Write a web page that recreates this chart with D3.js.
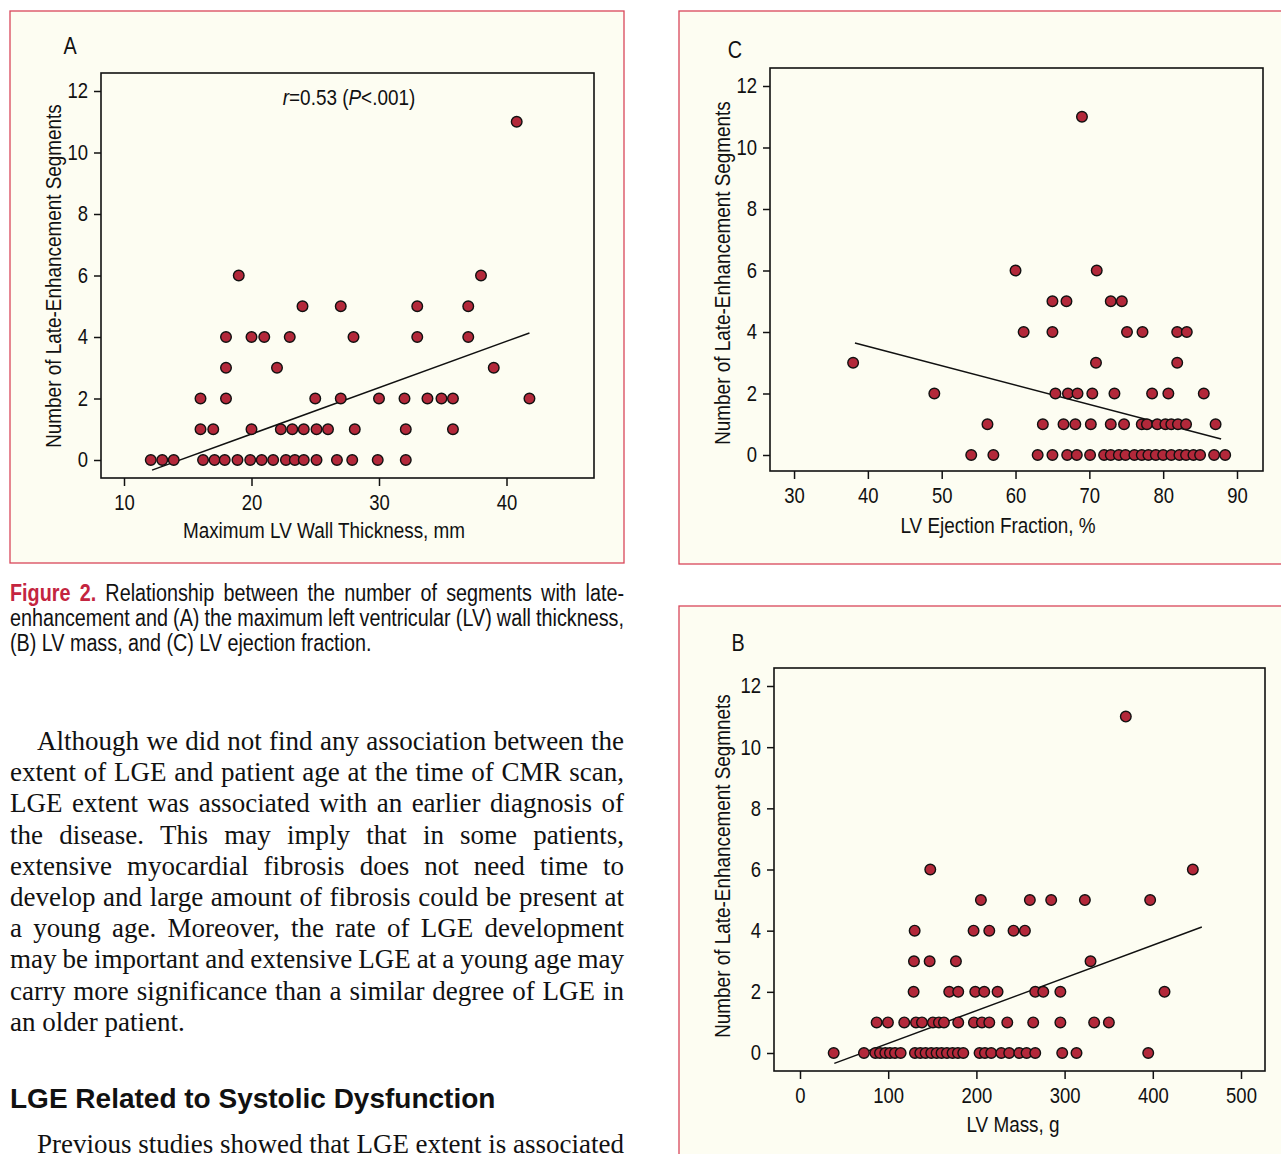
<!DOCTYPE html>
<html>
<head>
<meta charset="utf-8">
<style>
body { margin: 0; background: #fff; }
text { font-family: "Liberation Sans", Arial, sans-serif; fill: #111; }
.tick text { font-size: 21.5px; fill: #111; }
.tick line { stroke: #111; stroke-width: 1.5; }
.ttl { font-size: 22px; }
.letter { font-size: 23px; }
.cap { font-size: 23px; }
.fig { font-size: 23px; fill: #c4253f; font-weight: bold; }
.body { font-family: "Liberation Serif", "Times New Roman", serif; font-size: 27px; }
.head { font-family: "Liberation Sans", Arial, sans-serif; font-size: 28px; font-weight: bold; }
</style>
<script src="https://d3js.org/d3.v7.min.js"></script>
</head>
<body>
<svg width="1281" height="1154"></svg>
<script>
var yTicks = [0, 2, 4, 6, 8, 10, 12];
var thicknessTicks = [10, 20, 30, 40];
var ejectionTicks = [30, 40, 50, 60, 70, 80, 90];
var massTicks = [0, 100, 200, 300, 400, 500];

// [value, late-enhancement segments]
var thicknessPts = [
  [12.1,0],[13.0,0],[13.9,0],[16.2,0],[17.1,0],[17.9,0],[18.9,0],[19.9,0],[20.8,0],[21.7,0],
  [22.7,0],[23.4,0],[24.1,0],[25.1,0],[26.7,0],[27.9,0],[29.9,0],[32.1,0],
  [16.0,1],[17.0,1],[20.0,1],[22.3,1],[23.2,1],[24.1,1],[25.1,1],[26.0,1],[28.1,1],[32.1,1],[35.8,1],
  [16.0,2],[18.0,2],[25.0,2],[27.0,2],[30.0,2],[32.0,2],[33.8,2],[34.9,2],[35.8,2],[41.8,2],
  [18.0,3],[22.0,3],[39.0,3],
  [18.0,4],[20.0,4],[21.0,4],[23.0,4],[28.0,4],[33.0,4],[37.0,4],
  [24.0,5],[27.0,5],[33.0,5],[37.0,5],
  [19.0,6],[38.0,6],
  [40.8,11]
];
var ejectionPts = [
  [54.0,0],[57.0,0],[63.0,0],[65.0,0],[67.0,0],[68.3,0],[70.1,0],[72.0,0],[72.9,0],[74.0,0],[74.9,0],
  [76.1,0],[77.1,0],[78.0,0],[79.0,0],[80.0,0],[81.1,0],[82.2,0],[83.1,0],[84.1,0],[85.0,0],[86.9,0],[88.4,0],
  [56.2,1],[63.7,1],[66.5,1],[68.1,1],[70.2,1],[72.9,1],[74.7,1],[77.1,1],[77.8,1],[79.2,1],[80.3,1],
  [81.1,1],[82.0,1],[83.1,1],[87.1,1],
  [49.0,2],[65.4,2],[67.1,2],[68.4,2],[70.4,2],[73.4,2],[78.5,2],[80.7,2],[85.5,2],
  [38.0,3],[70.9,3],[81.9,3],
  [61.1,4],[65.0,4],[75.1,4],[77.2,4],[81.9,4],[83.2,4],
  [65.0,5],[66.9,5],[72.9,5],[74.4,5],
  [60.0,6],[71.0,6],
  [69.0,11]
];
var massPts = [
  [38.2,0],[72.5,0],[85.4,0],[90.7,0],[96.7,0],[102.0,0],[107.7,0],[114.1,0],[130.3,0],[136.4,0],
  [142.4,0],[148.8,0],[154.9,0],[160.5,0],[166.6,0],[173.0,0],[179.0,0],[185.1,0],[203.6,0],[209.7,0],
  [216.8,0],[228.2,0],[237.2,0],[248.6,0],[256.9,0],[266.7,0],[297.3,0],[313.5,0],[394.8,0],
  [86.9,1],[99.7,1],[118.2,1],[131.5,1],[138.3,1],[150.7,1],[157.5,1],[163.2,1],[179.4,1],[197.2,1],
  [206.3,1],[214.6,1],[235.0,1],[264.4,1],[295.2,1],[333.5,1],[350.2,1],
  [128.8,2],[169.2,2],[179.4,2],[198.7,2],[208.9,2],[224.0,2],[266.7,2],[275.8,2],[295.2,2],[413.3,2],
  [129.2,3],[147.0,3],[176.8,3],[329.4,3],
  [130.0,4],[196.8,4],[214.6,4],[242.1,4],[255.0,4],
  [205.1,5],[260.6,5],[284.8,5],[323.0,5],[397.0,5],
  [147.7,6],[445.4,6],
  [369.4,11]
];

// regression line end points
var thicknessFit = [[12.2, -0.33], [41.8, 4.13]];
var ejectionFit = [[38.25, 3.64], [87.85, 0.52]];
var massFit = [[38.9, -0.34], [455.6, 4.12]];

var captionLead = ["Figure", "2."];
var captionLines = [
  "Relationship between the number of segments with late-",
  "enhancement and (A) the maximum left ventricular (LV) wall thickness,",
  "(B) LV mass, and (C) LV ejection fraction."
];
var bodyLines = [
  "Although we did not find any association between the",
  "extent of LGE and patient age at the time of CMR scan,",
  "LGE extent was associated with an earlier diagnosis of",
  "the disease. This may imply that in some patients,",
  "extensive myocardial fibrosis does not need time to",
  "develop and large amount of fibrosis could be present at",
  "a young age. Moreover, the rate of LGE development",
  "may be important and extensive LGE at a young age may",
  "carry more significance than a similar degree of LGE in",
  "an older patient."
];
var heading = "LGE Related to Systolic Dysfunction";
var nextLine = "Previous studies showed that LGE extent is associated";

// no condensed face installed: squeeze the sans horizontally
var SQ = 0.86;

var svg = d3.select("svg");
svg.append("rect").attr("width", 1281).attr("height", 1154).attr("fill", "#fff");

function narrowText(g, cls, x, y, extra) {
  return g.append("text").attr("class", cls)
    .attr("transform", "translate(" + x + "," + y + ")" + (extra || "") + " scale(" + SQ + ",1)");
}

var panels = [
  { letter: "A", pts: thicknessPts, fit: thicknessFit, ticks: thicknessTicks,
    box: [10, 11, 614, 552], frame: [101, 73, 594, 478],
    xs: d3.scaleLinear().domain([10, 40]).range([124, 506.5]),
    ys: d3.scaleLinear().domain([0, 12]).range([460, 91]),
    letterPos: [70, 46], xTitle: "Maximum LV Wall Thickness, mm", xTitlePos: [324, 530],
    yTitle: "Number of Late-Enhancement Segments", yTitlePos: [53, 276],
    note: true },
  { letter: "C", pts: ejectionPts, fit: ejectionFit, ticks: ejectionTicks,
    box: [679, 11, 640, 553], frame: [770, 68, 1263, 471],
    xs: d3.scaleLinear().domain([50, 90]).range([941.7, 1237]),
    ys: d3.scaleLinear().domain([0, 12]).range([455, 86]),
    letterPos: [735, 50], xTitle: "LV Ejection Fraction, %", xTitlePos: [998, 525],
    yTitle: "Number of Late-Enhancement Segments", yTitlePos: [722, 273] },
  { letter: "B", pts: massPts, fit: massFit, ticks: massTicks,
    box: [679, 606, 640, 600], frame: [774, 668, 1265, 1071],
    xs: d3.scaleLinear().domain([0, 500]).range([800, 1241]),
    ys: d3.scaleLinear().domain([0, 12]).range([1053, 686]),
    letterPos: [738, 643], xTitle: "LV Mass, g", xTitlePos: [1013, 1124],
    yTitle: "Number of Late-Enhancement Segmnets", yTitlePos: [722, 866] }
];

panels.forEach(function(p) {
  var g = svg.append("g");
  g.append("rect")
    .attr("x", p.box[0]).attr("y", p.box[1])
    .attr("width", p.box[2]).attr("height", p.box[3])
    .attr("fill", "#fdfdf2").attr("stroke", "#d9475a").attr("stroke-width", 1.3);

  g.append("rect")
    .attr("x", p.frame[0]).attr("y", p.frame[1])
    .attr("width", p.frame[2] - p.frame[0]).attr("height", p.frame[3] - p.frame[1])
    .attr("fill", "#fdfdf2").attr("stroke", "#111").attr("stroke-width", 1.6);

  var ax = g.append("g")
    .attr("transform", "translate(" + p.frame[0] + ",0)")
    .call(d3.axisLeft(p.ys).tickValues(yTicks).tickSize(7).tickPadding(6).tickSizeOuter(0));
  ax.attr("font-family", null).attr("font-size", null);
  ax.select(".domain").remove();
  ax.selectAll(".tick text").attr("x", -13 / SQ).attr("transform", "scale(" + SQ + ",1)");

  var bx = g.append("g")
    .attr("transform", "translate(0," + p.frame[3] + ")")
    .call(d3.axisBottom(p.xs).tickValues(p.ticks).tickSize(8).tickPadding(9).tickSizeOuter(0));
  bx.attr("font-family", null).attr("font-size", null);
  bx.select(".domain").remove();
  bx.selectAll(".tick text").attr("transform", "scale(" + SQ + ",1)");

  var line = d3.line().x(function(d) { return p.xs(d[0]); }).y(function(d) { return p.ys(d[1]); });
  g.append("path").attr("d", line(p.fit))
    .attr("fill", "none").attr("stroke", "#111").attr("stroke-width", 1.5);

  g.append("g").selectAll("circle")
    .data(p.pts)
    .enter()
    .append("circle")
    .attr("cx", function(d) { return p.xs(d[0]); })
    .attr("cy", function(d) { return p.ys(d[1]); })
    .attr("r", 5.3)
    .attr("fill", "#b3283a")
    .attr("stroke", "#111")
    .attr("stroke-width", 1.4);

  narrowText(g, "letter", p.letterPos[0], p.letterPos[1])
    .attr("dy", "0.36em").attr("text-anchor", "middle").text(p.letter);

  narrowText(g, "ttl", p.xTitlePos[0], p.xTitlePos[1])
    .attr("dy", "0.35em").attr("text-anchor", "middle").text(p.xTitle);

  narrowText(g, "ttl", p.yTitlePos[0], p.yTitlePos[1], " rotate(-90)")
    .attr("dy", "0.35em").attr("text-anchor", "middle").text(p.yTitle);

  if (p.note) {
    var t = narrowText(g, "ttl", 349, 97).attr("dy", "0.35em").attr("text-anchor", "middle");
    t.append("tspan").attr("font-style", "italic").text("r");
    t.append("tspan").text("=0.53 (");
    t.append("tspan").attr("font-style", "italic").text("P");
    t.append("tspan").text("<.001)");
  }
});

// justified lines: tokens [{t, cls}], sq = horizontal squeeze
function justify(tokens, x0, x1, y, sq, plain) {
  var nodes = tokens.map(function(k) {
    return svg.append("text").attr("class", k.cls).text(k.t);
  });
  var widths = nodes.map(function(n) { return n.node().getComputedTextLength() * sq; });
  var total = d3.sum(widths);
  var gap = plain ? plain : (x1 - x0 - total) / (tokens.length - 1);
  var x = x0;
  nodes.forEach(function(n, i) {
    n.attr("transform", "translate(" + x + "," + y + ") scale(" + sq + ",1)");
    x += widths[i] + gap;
  });
}
function words(s, cls) {
  return s.split(" ").map(function(w) { return { t: w, cls: cls }; });
}

var capTokens = captionLead.map(function(w) { return { t: w, cls: "fig" }; });
justify(capTokens.concat(words(captionLines[0], "cap")), 10, 624, 601, SQ);
justify(words(captionLines[1], "cap"), 10, 624, 626, SQ);
justify(words(captionLines[2], "cap"), 10, 624, 651, SQ, 5.4);

bodyLines.forEach(function(s, i) {
  var y = 750 + i * 31.2;
  var x0 = i === 0 ? 37 : 10;
  if (i === bodyLines.length - 1) justify(words(s, "body"), x0, 624, y, 1, 6.75);
  else justify(words(s, "body"), x0, 624, y, 1);
});

svg.append("text").attr("class", "head").attr("x", 10).attr("y", 1108).text(heading);
justify(words(nextLine, "body"), 37, 624, 1153, 1);
</script>
</body>
</html>
